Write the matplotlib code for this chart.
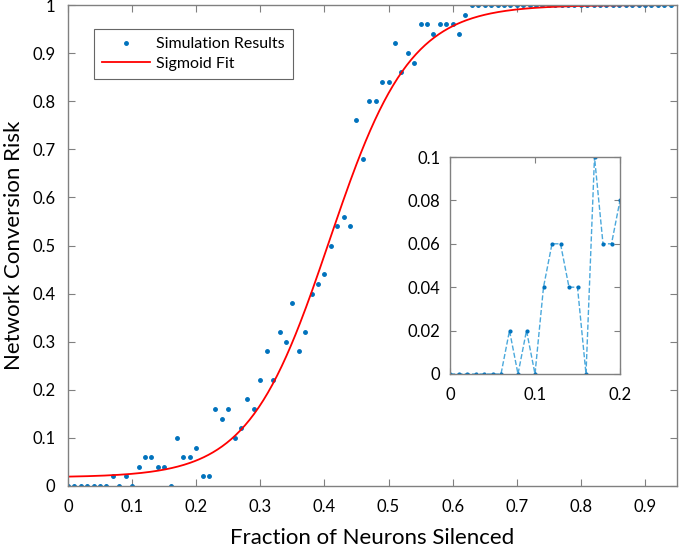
import numpy as np
import matplotlib
matplotlib.use('Agg')
import matplotlib.pyplot as plt

# fraction of neurons silenced, step 0.01
frac = np.arange(95) * 0.01

risk = [0, 0, 0, 0, 0, 0, 0, 0.02, 0, 0.02,
        0, 0.04, 0.06, 0.06, 0.04, 0.04, 0, 0.10, 0.06, 0.06,
        0.08, 0.02, 0.02, 0.16, 0.14, 0.16, 0.10, 0.12, 0.18, 0.16,
        0.22, 0.28, 0.22, 0.32, 0.30, 0.38, 0.28, 0.32, 0.40, 0.42,
        0.44, 0.50, 0.54, 0.56, 0.54, 0.76, 0.68, 0.80, 0.80, 0.84,
        0.84, 0.92, 0.86, 0.90, 0.88, 0.96, 0.96, 0.94, 0.96, 0.96,
        0.96, 0.94, 0.98] + [1.0] * 32

# sigmoid fit parameters
fit_base = 0.018
fit_k = 15.9
fit_x0 = 0.4075

xfit = np.linspace(0, 0.95, 400)
yfit = fit_base + (1 - fit_base) / (1 + np.exp(-fit_k * (xfit - fit_x0)))

plt.rcParams['font.family'] = ['Lato', 'DejaVu Sans']
axis_col = '#808080'
dot_col = '#0072BD'

fig = plt.figure()
fig.set_size_inches(6.8, 5.5)

ax = fig.add_axes([68/680, 1 - 486/550, 609/680, 481/550])
ax.plot(frac, risk, '.', color=dot_col, markersize=5, label='Simulation Results')
ax.plot(xfit, yfit, color='red', linewidth=1.3, label='Sigmoid Fit')
ax.set_xlim(0, 0.95)
ax.set_ylim(0, 1)
ax.set_xticks(np.arange(0, 0.95, 0.1))
ax.set_xticklabels(['0', '0.1', '0.2', '0.3', '0.4', '0.5', '0.6', '0.7', '0.8', '0.9'])
ax.set_yticks(np.arange(0, 1.01, 0.1))
ax.set_yticklabels(['0', '0.1', '0.2', '0.3', '0.4', '0.5', '0.6', '0.7', '0.8', '0.9', '1'])
ax.set_xlabel('Fraction of Neurons Silenced', fontsize=16, labelpad=10)
ax.set_ylabel('Network Conversion Risk', fontsize=16, labelpad=6)
ax.tick_params(direction='in', top=True, right=True, length=5, width=0.8,
               color=axis_col, labelsize=12, pad=9)
for s in ax.spines.values():
    s.set_color(axis_col)
    s.set_linewidth(1)

leg = ax.legend(loc='upper left', bbox_to_anchor=(0.043, 0.95), borderaxespad=0,
                fontsize=11.5, fancybox=False, edgecolor='#404040',
                handlelength=3.0, handletextpad=0.4, borderpad=0.5,
                labelspacing=0.35)
leg.get_frame().set_linewidth(0.8)

# inset zoom on low fractions
ins = fig.add_axes([450/680, 1 - 374/550, 170/680, 217/550])
n_ins = 21
ins.plot(frac[:n_ins + 1], risk[:n_ins + 1], '--', color='#4aa8dc', linewidth=1)
ins.plot(frac[:n_ins + 1], risk[:n_ins + 1], '.', color=dot_col, markersize=4)
ins.set_xlim(0, 0.2)
ins.set_ylim(0, 0.1)
ins.set_xticks([0, 0.1, 0.2])
ins.set_xticklabels(['0', '0.1', '0.2'])
ins.set_yticks([0, 0.02, 0.04, 0.06, 0.08, 0.1])
ins.set_yticklabels(['0', '0.02', '0.04', '0.06', '0.08', '0.1'])
ins.tick_params(direction='in', top=True, right=True, length=4, width=0.8,
                color=axis_col, labelsize=12)
ins.tick_params(axis='x', pad=9)
ins.tick_params(axis='y', pad=7)
for s in ins.spines.values():
    s.set_color(axis_col)
    s.set_linewidth(1)

plt.savefig('out.png', dpi=100)
